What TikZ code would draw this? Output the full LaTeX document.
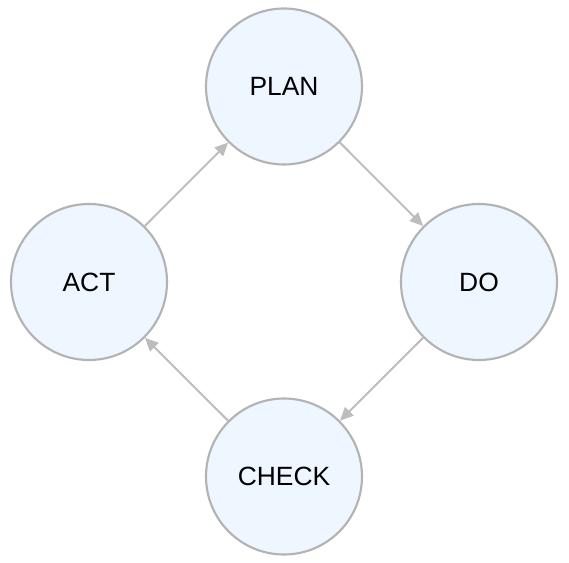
\documentclass[tikz,border=0pt]{standalone}
\usepackage{fontspec}
\setmainfont{Liberation Sans}
\usetikzlibrary{arrows.meta}
\definecolor{cborder}{HTML}{B3B3B3}
\definecolor{cfill}{HTML}{EEF6FF}
\definecolor{carrow}{HTML}{BDBDBD}
\begin{document}
\begin{tikzpicture}[x=0.75pt,y=-0.75pt,
  phase/.style={circle,draw=cborder,fill=cfill,line width=1.6pt,minimum size=117pt,inner sep=0pt,font=\fontsize{19.8}{22}\selectfont},
  flow/.style={draw=carrow,line width=1.5pt,-{Triangle[length=10pt,width=9pt]}}]
\useasboundingbox (0,0) rectangle (569,563);
\node[phase] (plan) at (284,86.5) {PLAN};
\node[phase] (do) at (479,282) {DO};
\node[phase] (check) at (284,476.5) {CHECK};
\node[phase] (act) at (89,282) {ACT};
\draw[flow] (plan) -- (do);
\draw[flow] (do) -- (check);
\draw[flow] (check) -- (act);
\draw[flow] (act) -- (plan);
\end{tikzpicture}
\end{document}
